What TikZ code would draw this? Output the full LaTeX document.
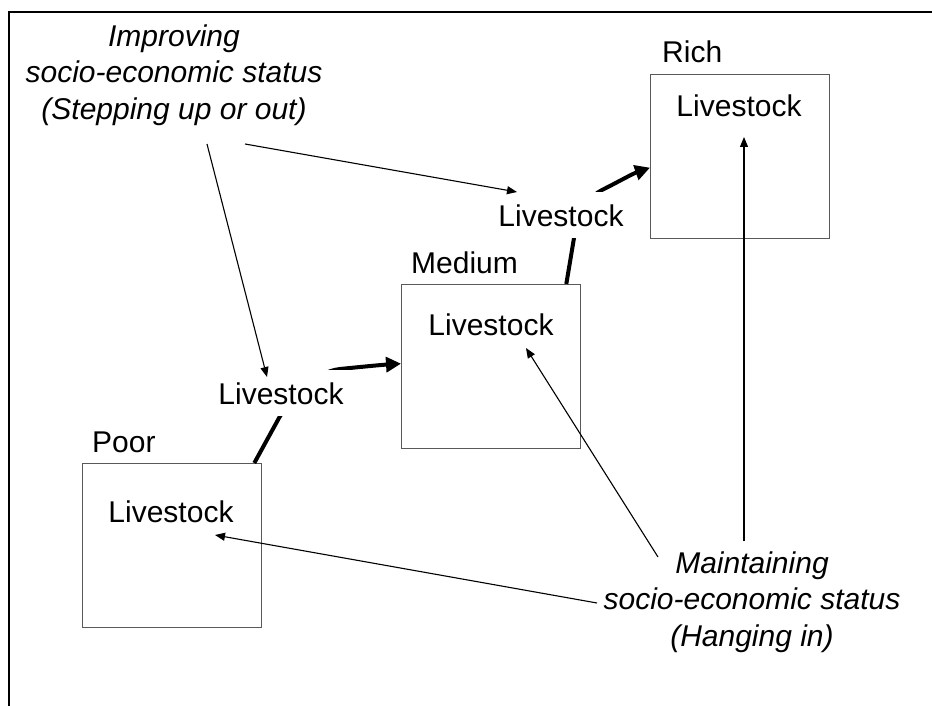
\documentclass[tikz,border=0pt]{standalone}
\usepackage{fontspec}
\setmainfont{Liberation Sans}
\usetikzlibrary{arrows.meta}
\begin{document}
\begin{tikzpicture}[x=1pt,y=-1pt,
  every node/.style={font=\fontsize{30}{36.5}\selectfont, inner sep=0pt},
  box/.style={draw=black!65, line width=1.3pt, minimum width=179pt,
    minimum height=164pt, anchor=north west},
  word/.style={anchor=base},
  caption/.style={anchor=base west},
  note/.style={align=center, font=\fontsize{30}{36.5}\selectfont\itshape},
  hop/.style={anchor=base, fill=white, inner sep=12pt},
  thinarrow/.style={line width=1.1pt, -{Triangle[length=10pt,width=8pt]}},
  thickarrow/.style={line width=4pt, -{Triangle[length=15pt,width=15pt]}}]

\useasboundingbox (0,0) rectangle (932,706);

% outer frame (top and left edges only)
\draw[line width=1.5pt] (932,12) -- (9,12) -- (9,706);

% status boxes
\node[box] (poor)   at (82,463) {};
\node[box] (medium) at (401,284) {};
\node[box] (rich)   at (650,74) {};

\node[caption] (poorcap)   at (92,452)  {Poor};
\node[caption] (mediumcap) at (411,273) {Medium};
\node[caption] (richcap)   at (662,63)  {Rich};

\node[word] (poorlv)   at (171,522) {Livestock};
\node[word] (mediumlv) at (491,335) {Livestock};
\node[word] (richlv)   at (739,117) {Livestock};

% stepping-up paths (partly hidden by the livestock labels)
\draw[thickarrow] ([xshift=-8pt]poor.north east) -- (279,418)
  .. controls (292,395) and (315,372) .. (340,369)
  .. controls (360,367) and (380,365) .. ([yshift=3pt]medium.west);
\draw[thickarrow] ([xshift=-15pt]medium.north east) -- (574,238)
  .. controls (580,210) and (590,196) .. (602,190)
  .. controls (618,182) and (632,174) .. ([yshift=-11pt]rich.west);

\node[hop] (lvup1) at (281,404) {Livestock};
\node[hop] (lvup2) at (561,226) {Livestock};

% explanatory notes
\node[note] (imp) at (174,75) {Improving\\socio-economic status\\(Stepping up or out)};
\node[note] (mnt) at (752,602) {Maintaining\\socio-economic status\\(Hanging in)};

% thin connector end points
\coordinate (impa) at (207,144);
\coordinate (impb) at (245,144);
\coordinate (lvup1tip) at (267,377);
\coordinate (lvup2tip) at (517,192);
\coordinate (mnta) at (658,557);
\coordinate (mntb) at (597,603);
\coordinate (mntc) at (744,541);
\coordinate (mediumtip) at (526,348);
\coordinate (poortip) at (215,535);
\coordinate (richtip) at (744,137);

\draw[thinarrow] (impa) -- (lvup1tip);
\draw[thinarrow] (impb) -- (lvup2tip);
\draw[thinarrow] (mnta) -- (mediumtip);
\draw[thinarrow] (mntb) -- (poortip);
\draw[thinarrow] (mntc) -- (richtip);
\end{tikzpicture}
\end{document}
